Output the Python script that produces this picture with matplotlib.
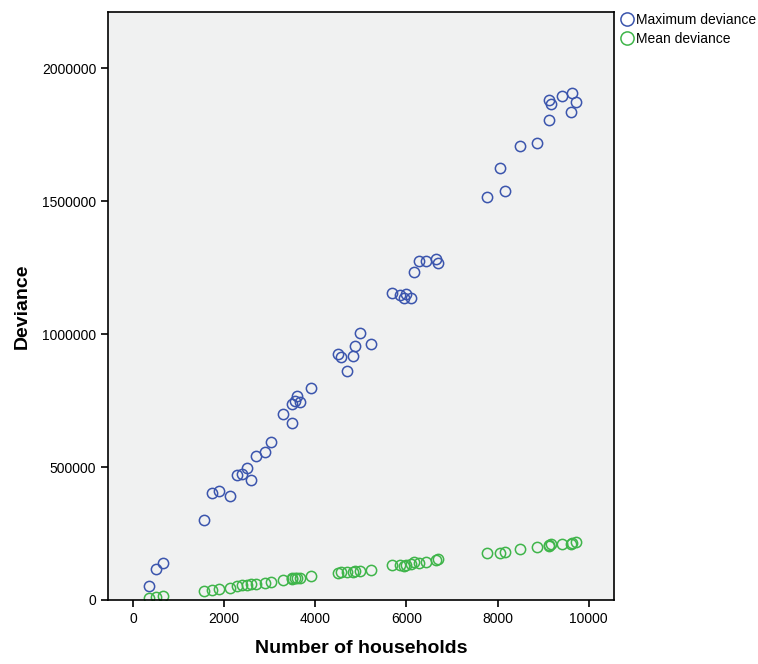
import matplotlib
matplotlib.use("Agg")
import matplotlib.pyplot as plt
from matplotlib.lines import Line2D

plt.rcParams['font.family'] = ['Liberation Sans', 'DejaVu Sans']

# Number of households per area
households = [352, 512, 659, 1554, 1730, 1897, 2132, 2286, 2402, 2499,
              2600, 2697, 2901, 3018, 3297, 3488, 3495, 3554, 3589, 3664,
              3905, 4490, 4557, 4703, 4835, 4879, 4974, 5224, 5692, 5853,
              5956, 6000, 6103, 6176, 6271, 6424, 6644, 6696, 7765, 8044,
              8154, 8498, 8872, 9136, 9136, 9180, 9407, 9626, 9619, 9730]

# Maximum deviance for each area
max_deviance = [52600, 115400, 140200, 299600, 403400, 408600, 391000, 471000, 474800, 496200,
                452300, 540200, 555300, 594000, 698100, 664300, 736800, 748100, 765800, 745500,
                797000, 924800, 914700, 860900, 916000, 956000, 1005000, 961200, 1153000, 1146600,
                1136500, 1151500, 1135300, 1234300, 1275600, 1275600, 1284500, 1269500, 1515000, 1624000,
                1540000, 1709300, 1719300, 1805800, 1882300, 1865900, 1897300, 1908500, 1835800, 1874800]

# Mean deviance for each area
mean_deviance = [9000, 11000, 15000, 35000, 38700, 42500, 45100, 53800, 56400, 57500,
                 59000, 61300, 63000, 68800, 74100, 80000, 81600, 82000, 82700, 82700,
                 91400, 103000, 105300, 104100, 107000, 109000, 109000, 113900, 131600, 131600,
                 129000, 132000, 135000, 144000, 139100, 141700, 150400, 153000, 175600, 178000,
                 180500, 190600, 198100, 203000, 205000, 209400, 211700, 213000, 211700, 218000]

series_names = ["Maximum deviance", "Mean deviance"]
x_ticks = [0, 2000, 4000, 6000, 8000, 10000]
y_ticks = [0, 500000, 1000000, 1500000, 2000000]

blue = '#3b55ad'
green = '#3fb54a'

fig = plt.figure(figsize=(7.58, 6.64), dpi=100)
ax = fig.add_axes([0.1425, 0.0964, 0.6675, 0.8856])
ax.set_facecolor('#f0f1f1')

mk = dict(marker='o', linestyle='none', markerfacecolor='none',
          markersize=7.4, markeredgewidth=1.1)
ax.plot(households, max_deviance, color=blue, markeredgecolor=blue, **mk)
ax.plot(households, mean_deviance, color=green, markeredgecolor=green, **mk)

ax.set_xlim(-548, 10553)
ax.set_ylim(0, 2212000)
ax.set_xticks(x_ticks)
ax.set_xticklabels([str(v) for v in x_ticks])
ax.set_yticks(y_ticks)
ax.set_yticklabels([str(v) for v in y_ticks])
ax.tick_params(direction='out', length=5, width=1.2, labelsize=10, colors='black')
for s in ax.spines.values():
    s.set_linewidth(1.2)
    s.set_color('black')

ax.set_xlabel("Number of households", fontsize=14, fontweight='bold', labelpad=10)
ax.set_ylabel("Deviance", fontsize=14, fontweight='bold', labelpad=8)

leg_mk = dict(mk, markersize=9.5)
handles = [Line2D([], [], color=c, markeredgecolor=c, **leg_mk) for c in (blue, green)]
fig.legend(handles, series_names, loc='upper left', bbox_to_anchor=(0.809, 0.989),
           frameon=False, fontsize=10, handletextpad=0.05, handlelength=1.2,
           labelspacing=0.35, borderaxespad=0)

fig.savefig("out.png", dpi=100, facecolor='white')
